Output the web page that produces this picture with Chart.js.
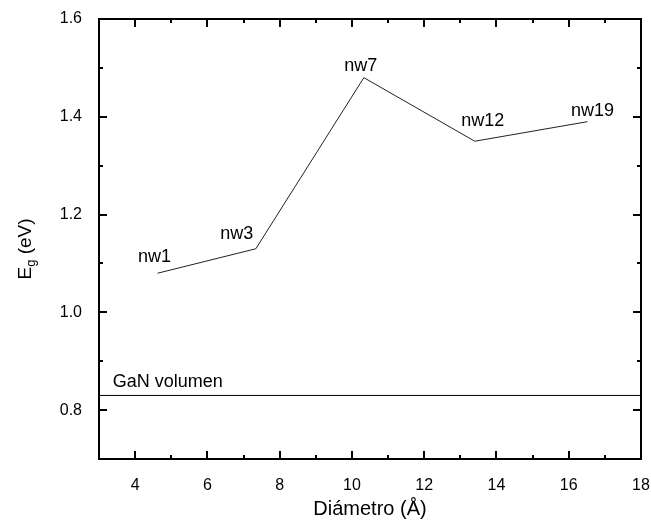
<!DOCTYPE html>
<html>
<head>
<meta charset="utf-8">
<script src="https://cdn.jsdelivr.net/npm/chart.js@4.4.1/dist/chart.umd.min.js"></script>
<style>
  html, body { margin: 0; padding: 0; background: #fff; }
  #wrap { width: 651px; height: 521px; }
</style>
</head>
<body>
<div id="wrap"><canvas id="gapChart" width="651" height="521"></canvas></div>
<script>
// nanohilos: diámetro vs. gap
const nwLabels = ['nw1', 'nw3', 'nw7', 'nw12', 'nw19'];
const diametro = [4.62, 7.34, 10.33, 13.4, 16.52];
const gap = [1.08, 1.13, 1.48, 1.35, 1.39];

// gap del GaN en volumen
const bulkGap = 0.83;
const bulkLabel = 'GaN volumen';

const xTicks = [4, 6, 8, 10, 12, 14, 16, 18];
const yTicks = [0.8, 1.0, 1.2, 1.4, 1.6];
const xRange = [3, 18];
const yRange = [0.7, 1.6];

const FONT = 'Arial, "Liberation Sans", sans-serif';

// desplazamiento de cada etiqueta respecto a su punto (px)
const labelOffsets = [[-3, -16], [-19, -15], [-3, -12], [8, -20], [5, -11]];

const labelsPlugin = {
    id: 'nwLabels',
    afterDatasetsDraw(chart) {
        const ctx = chart.ctx;
        const xs = chart.scales.x, ys = chart.scales.y;
        ctx.save();
        ctx.fillStyle = '#000';
        ctx.font = '18px ' + FONT;
        ctx.textAlign = 'center';
        ctx.textBaseline = 'middle';
        nwLabels.forEach((t, i) => {
            const px = xs.getPixelForValue(diametro[i]) + labelOffsets[i][0];
            const py = ys.getPixelForValue(gap[i]) + labelOffsets[i][1];
            ctx.fillText(t, px, py);
        });
        ctx.textAlign = 'left';
        ctx.fillText(bulkLabel, xs.getPixelForValue(3.38), ys.getPixelForValue(bulkGap) - 13);
        ctx.restore();
    }
};

// marco y marcas hacia adentro en los cuatro lados
const framePlugin = {
    id: 'frame',
    afterDraw(chart) {
        const ctx = chart.ctx;
        const a = chart.chartArea;
        const xs = chart.scales.x, ys = chart.scales.y;
        ctx.save();
        ctx.strokeStyle = '#000';
        ctx.lineWidth = 2;
        ctx.strokeRect(a.left, a.top, a.right - a.left, a.bottom - a.top);
        ctx.beginPath();
        for (let v = 4; v < 18; v++) {
            const px = Math.round(xs.getPixelForValue(v));
            const len = v % 2 === 0 ? 8 : 4;
            ctx.moveTo(px, a.bottom); ctx.lineTo(px, a.bottom - len);
            ctx.moveTo(px, a.top); ctx.lineTo(px, a.top + len);
        }
        for (let k = 8; k < 16; k++) {
            const py = Math.round(ys.getPixelForValue(k / 10));
            const len = k % 2 === 0 ? 8 : 4;
            ctx.moveTo(a.left, py); ctx.lineTo(a.left + len, py);
            ctx.moveTo(a.right, py); ctx.lineTo(a.right - len, py);
        }
        ctx.stroke();

        // título del eje y con subíndice
        ctx.fillStyle = '#000';
        ctx.translate(26, 249);
        ctx.rotate(-Math.PI / 2);
        ctx.textBaseline = 'middle';
        ctx.font = '19px ' + FONT;
        const wE = ctx.measureText('E').width;
        const wRest = ctx.measureText(' (eV)').width;
        ctx.font = '13px ' + FONT;
        const wg = ctx.measureText('g').width;
        const x0 = -(wE + wg + wRest) / 2;
        ctx.textAlign = 'left';
        ctx.font = '19px ' + FONT;
        ctx.fillText('E', x0, 0);
        ctx.font = '13px ' + FONT;
        ctx.fillText('g', x0 + wE, 5);
        ctx.font = '19px ' + FONT;
        ctx.fillText(' (eV)', x0 + wE + wg, 0);
        ctx.restore();
    }
};

new Chart(document.getElementById('gapChart'), {
    type: 'scatter',
    data: {
        datasets: [
            {
                data: diametro.map((d, i) => ({ x: d, y: gap[i] })),
                showLine: true,
                borderColor: '#222',
                borderWidth: 1,
                pointRadius: 0,
                tension: 0
            },
            {
                data: [{ x: xRange[0], y: bulkGap }, { x: xRange[1], y: bulkGap }],
                showLine: true,
                borderColor: '#000',
                borderWidth: 1,
                pointRadius: 0
            }
        ]
    },
    options: {
        responsive: false,
        animation: false,
        layout: { padding: { left: 0, right: 10, top: 19, bottom: 0 } },
        plugins: {
            legend: { display: false },
            tooltip: { enabled: false }
        },
        scales: {
            x: {
                type: 'linear',
                min: xRange[0], max: xRange[1],
                afterBuildTicks: s => { s.ticks = xTicks.map(v => ({ value: v })); },
                afterFit: s => { s.height = 62; s.paddingLeft = 0; s.paddingRight = 0; },
                grid: { display: false },
                border: { display: false },
                ticks: { color: '#000', font: { size: 16, family: FONT }, padding: 9, maxRotation: 0 },
                title: { display: true, text: 'Diámetro (Å)', color: '#000', font: { size: 20, family: FONT }, padding: { top: 2, bottom: 0 } }
            },
            y: {
                type: 'linear',
                min: yRange[0], max: yRange[1],
                afterBuildTicks: s => { s.ticks = yTicks.map(v => ({ value: v })); },
                afterFit: s => { s.width = 99; s.paddingTop = 0; s.paddingBottom = 0; },
                grid: { display: false },
                border: { display: false },
                ticks: { color: '#000', font: { size: 16, family: FONT }, padding: 9, callback: v => v.toFixed(1) }
            }
        }
    },
    plugins: [labelsPlugin, framePlugin]
});
</script>
</body>
</html>
